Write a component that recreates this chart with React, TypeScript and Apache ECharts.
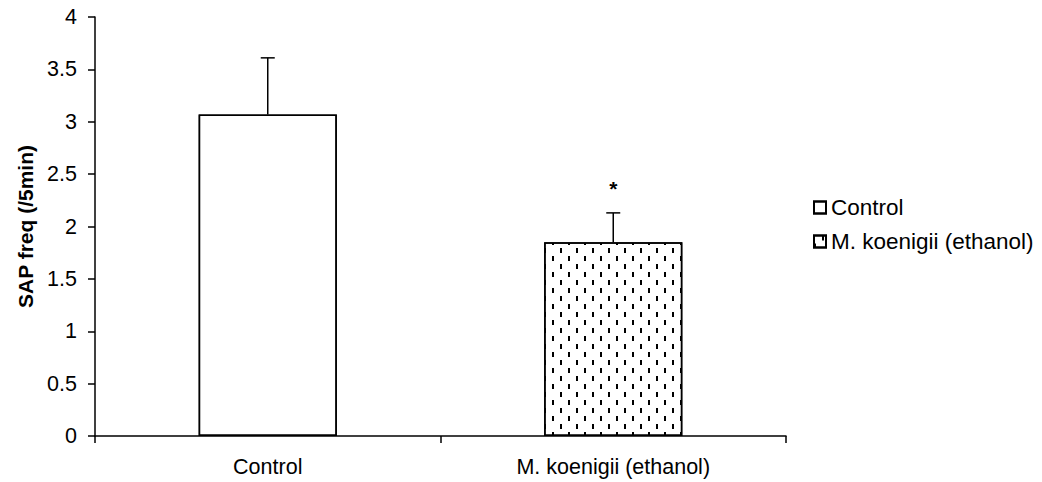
import React, { useEffect, useRef } from "react";
import * as echarts from "echarts";

const categories = ["Control", "M. koenigii (ethanol)"];
const seriesNames = ["Control", "M. koenigii (ethanol)"];
const means = [3.07, 1.85];
const upperErrors = [3.61, 2.13];
const significance = ["", "*"];
const yTicks = { min: 0, max: 4, interval: 0.5 };

export default function App() {
  const ref = useRef<HTMLDivElement>(null);
  useEffect(() => {
    if (!ref.current) return;
    const chart = echarts.init(ref.current, undefined, { renderer: "svg" });
    const font = "Liberation Sans, Arial, sans-serif";
    const barSeries = seriesNames.map((name, si) => ({
      name,
      type: "bar",
      barWidth: "40%",
      barGap: "-100%",
      data: means.map((v, i) => (i === si ? v : "-")),
      itemStyle: {
        color: "#fff",
        borderColor: "#000",
        borderWidth: 1.5,
        decal:
          si === 1
            ? {
                symbol: "rect",
                symbolSize: 1,
                color: "#000",
                backgroundColor: null,
                dashArrayX: [
                  [2, 14],
                  [0, 8, 2, 6],
                ],
                dashArrayY: [5, 3],
                rotation: 0,
              }
            : { symbol: "none", color: "rgba(0,0,0,0)", dashArrayX: [0, 10], dashArrayY: [0, 10] },
      },
    }));
    const errData = means.map((v, i) => [i, v, upperErrors[i], significance[i]]);
    chart.setOption({
      animation: false,
      aria: { enabled: true, decal: { show: true } },
      grid: { left: 95, top: 17, right: 256, bottom: 46 },
      legend: {
        data: seriesNames,
        orient: "vertical",
        left: 808,
        top: 191,
        icon: "rect",
        itemWidth: 12,
        itemHeight: 12,
        itemGap: 11,
        textStyle: { fontFamily: font, fontSize: 22.5, color: "#000" },
      },
      xAxis: {
        type: "category",
        data: categories,
        axisLine: { lineStyle: { color: "#000", width: 1.5 } },
        axisTick: { show: true, length: 7, lineStyle: { color: "#000", width: 1.5 } },
        axisLabel: { margin: 20, fontFamily: font, fontSize: 21.5, color: "#000" },
      },
      yAxis: {
        type: "value",
        min: yTicks.min,
        max: yTicks.max,
        interval: yTicks.interval,
        name: "SAP freq (/5min)",
        nameLocation: "middle",
        nameGap: 59,
        nameTextStyle: { fontFamily: font, fontSize: 21, fontWeight: "bold", color: "#000" },
        splitLine: { show: false },
        axisLine: { show: true, lineStyle: { color: "#000", width: 1.5 } },
        axisTick: { show: true, length: 7, lineStyle: { color: "#000", width: 1.5 } },
        axisLabel: { margin: 18, fontFamily: font, fontSize: 21.5, color: "#000" },
      },
      series: [
        ...barSeries,
        {
          name: "errors",
          type: "custom",
          data: errData,
          encode: { x: 0, y: [1, 2] },
          z: 10,
          renderItem: (params: any, api: any) => {
            const base = api.coord([api.value(0), api.value(1)]);
            const top = api.coord([api.value(0), api.value(2)]);
            const sig = significance[params.dataIndex];
            const half = 7;
            const children: any[] = [
              {
                type: "line",
                shape: { x1: base[0], y1: base[1], x2: top[0], y2: top[1] },
                style: { stroke: "#000", lineWidth: 1.5 },
              },
              {
                type: "line",
                shape: { x1: top[0] - half, y1: top[1], x2: top[0] + half, y2: top[1] },
                style: { stroke: "#000", lineWidth: 1.5 },
              },
            ];
            if (sig) {
              children.push({
                type: "text",
                style: {
                  text: sig,
                  x: top[0],
                  y: top[1] - 24,
                  align: "center",
                  verticalAlign: "middle",
                  fontFamily: font,
                  fontSize: 21,
                  fontWeight: "bold",
                  fill: "#000",
                },
              });
            }
            return { type: "group", children };
          },
        },
      ],
    });
    return () => chart.dispose();
  }, []);
  return <div ref={ref} style={{ width: 1042, height: 482, position: "absolute", left: 0, top: 0 }} />;
}
